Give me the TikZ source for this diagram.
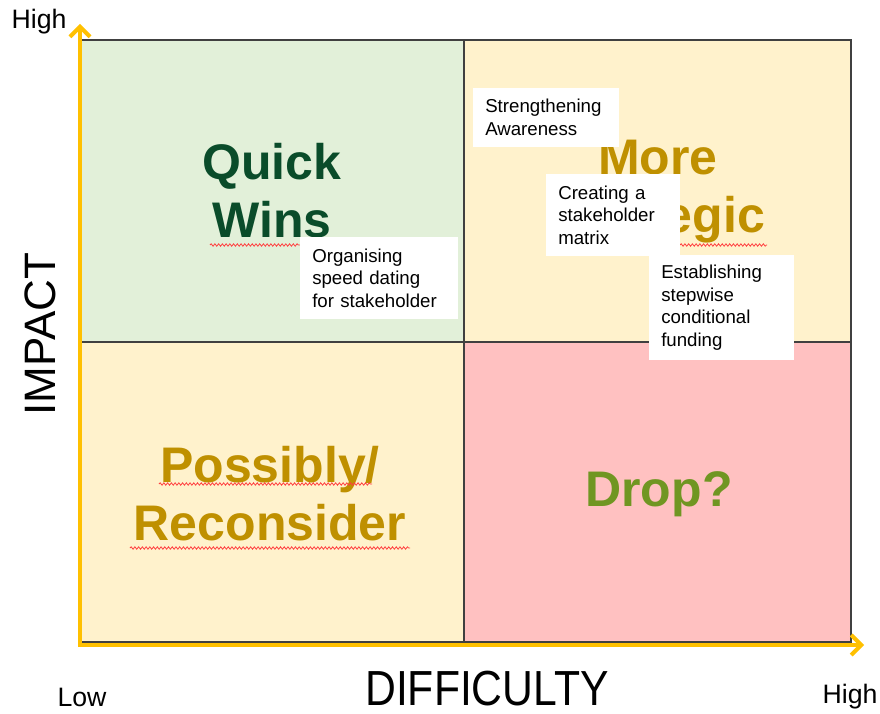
\documentclass[tikz,border=0pt]{standalone}
\usepackage{fontspec}
\setmainfont{Liberation Sans}
\usetikzlibrary{arrows.meta,decorations.pathmorphing}
\definecolor{qgreen}{HTML}{E2F0D9}
\definecolor{qyellow}{HTML}{FFF2CC}
\definecolor{qpink}{HTML}{FFC1C1}
\definecolor{axisyellow}{HTML}{FFC000}
\definecolor{darkgreen}{RGB}{10,76,42}
\definecolor{gold}{HTML}{BF9000}
\definecolor{olive}{RGB}{112,150,34}
\definecolor{border}{HTML}{404040}
\tikzset{
  quad/.style={draw=border, line width=0.9pt},
  biglabel/.style={font=\fontsize{37.5}{43.5}\selectfont\bfseries, align=center},
  axislabel/.style={font=\fontsize{20}{24}\selectfont},
  axistitle/.style={font=\fontsize{33}{38}\selectfont},
  axisarrow/.style={draw=axisyellow, line width=3pt, -{Straight Barb[length=7.5pt,width=15pt]}},
  notebox/.style={fill=white, anchor=north west, align=left, inner xsep=9pt, inner ysep=0pt,
    font=\fontsize{14}{17}\selectfont},
  squiggle/.style={draw=red!75, line width=0.6pt, decorate,
    decoration={snake, amplitude=0.9pt, segment length=2.8pt}}
}
\begin{document}
\begin{tikzpicture}[x=0.75pt,y=-0.75pt]
\useasboundingbox (0,0) rectangle (880,713);
% quadrants
\fill[qgreen] (79,40) rectangle (464,342);
\fill[qyellow] (464,40) rectangle (851,342);
\fill[qyellow] (79,342) rectangle (464,642);
\fill[qpink] (464,342) rectangle (851,642);
\draw[quad] (79,40) rectangle (851,642);
\draw[quad] (464,40) -- (464,642);
\draw[quad] (79,342) -- (851,342);
% quadrant labels
\node[biglabel, text=darkgreen] (qw) at (272,191) {Quick\\Wins};
\node[biglabel, text=gold] (ms) at (658,192) {More\\Strategic};
\node[biglabel, text=gold] (pr) at (270,494) {Possibly/\\Reconsider};
\node[biglabel, text=olive] (dr) at (659,494) {Drop?};
% spell-check squiggles
\draw[squiggle] (210,245) -- (300,245);
\draw[squiggle] (680,245) -- (767,245);
\draw[squiggle] (159,484) -- (372,484);
\draw[squiggle] (130,548) -- (410,548);
% note boxes
\node[notebox, text width=91.5pt, minimum height=44pt] (sa) at (473,88) {Strengthening\\Awareness};
\node[notebox, text width=82.5pt, minimum height=61.5pt] (cm) at (546,174) {Creating a\\stakeholder\\matrix};
\node[notebox, text width=90.75pt, minimum height=78.75pt] (ef) at (649,255) {Establishing\\stepwise\\conditional\\funding};
\node[notebox, text width=100.5pt, minimum height=61.5pt] (os) at (300,237) {Organising\\speed dating\\for stakeholder};
% axes
\coordinate (origin) at (80,645);
\coordinate (ytip) at (80,24);
\coordinate (xtip) at (864,645);
\draw[axisarrow] ([yshift=-1.5pt]origin) -- (ytip);
\draw[axisarrow] ([xshift=-1.5pt]origin) -- (xtip);
% axis labels
\node[axislabel] (yhigh) at (39,22) {High};
\node[axislabel] (xlow) at (82,697) {Low};
\node[axislabel] (xhigh) at (850,697) {High};
\node[axistitle, yscale=1.12, xscale=0.97, inner sep=1pt] (xt) at (487,689) {DIFFICULTY};
\node[axistitle, rotate=90] (yt) at (40,334) {IMPACT};
\end{tikzpicture}
\end{document}
